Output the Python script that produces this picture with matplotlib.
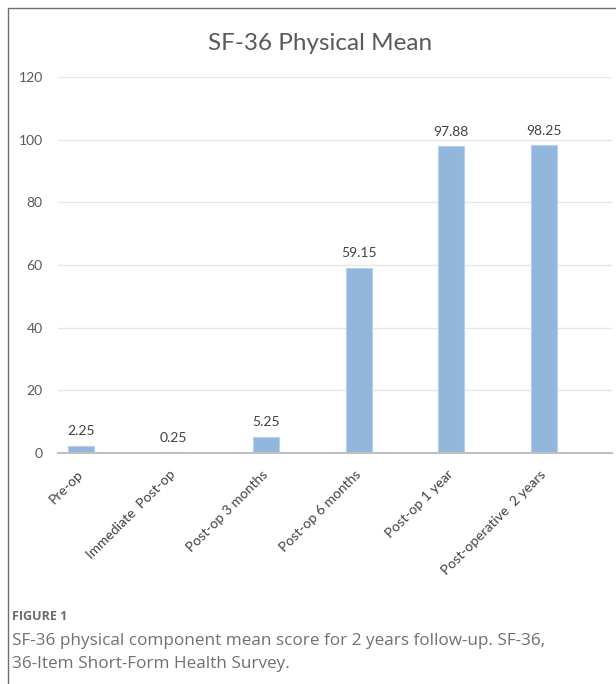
import matplotlib.pyplot as plt
from matplotlib.patches import Rectangle

categories = ["Pre-op", "Immediate  Post-op", "Post-op 3 months",
              "Post-op 6 months", "Post-op 1 year", "Post-operative  2 years"]
values = [2.25, 0.25, 5.25, 59.15, 97.88, 98.25]
yticks = [0, 20, 40, 60, 80, 100, 120]

plt.rcParams['font.family'] = ['Lato', 'DejaVu Sans']

fig = plt.figure(figsize=(6.16, 6.84), dpi=100)
# axis spans x 58..612 px, y 77..453 px
ax = fig.add_axes([58 / 616, 1 - 453 / 684, 554 / 616, 376 / 684])

x = range(len(categories))
ax.bar(x, values, width=0.28, color='#93B6DD', edgecolor='#B7CFEA',
       linewidth=0.8, zorder=3)
for xi, v in zip(x, values):
    ax.text(xi, v + 2.7, f"{v:.2f}", ha='center', va='bottom', fontsize=10,
            color='#404040')

ax.set_xlim(-0.25, 5.74)
ax.set_ylim(0, 120)
ax.set_yticks(yticks)
ax.tick_params(axis='y', length=0, labelsize=10, labelcolor='#595959', pad=11)
ax.tick_params(axis='x', length=0, labelsize=10, labelcolor='#404040', pad=14)
ax.set_xticks(list(x))
ax.set_xticklabels(categories, rotation=45, ha='right', va='center',
                   rotation_mode='anchor')
ax.grid(axis='y', color='#E6E6E6', linewidth=1, zorder=0)
for s in ['top', 'right', 'left']:
    ax.spines[s].set_visible(False)
ax.spines['bottom'].set_color('#BFBFBF')
ax.spines['bottom'].set_linewidth(1.5)
ax.spines['bottom'].set_zorder(4)

fig.text(320 / 616, 1 - 44 / 684, "SF-36 Physical Mean", ha='center',
         va='center', fontsize=17.5, color='#595959')

# outer frame
fig.patches.append(Rectangle((8 / 616, -0.1), 1.2, 1 - 8 / 684 + 0.1,
                             transform=fig.transFigure, fill=False,
                             edgecolor='#6E6E6E', linewidth=1))

cap_font = ['Open Sans', 'DejaVu Sans']
fig.text(12 / 616, 1 - 617 / 684, "FIGURE 1", fontsize=9, fontweight='bold',
         color='#6B6B6B', family=cap_font, va='center')
fig.text(12 / 616, 1 - 641 / 684,
         "SF-36 physical component mean score for 2 years follow-up. SF-36,",
         fontsize=12.3, color='#707070', family=cap_font, va='center')
fig.text(12 / 616, 1 - 664 / 684, "36-Item Short-Form Health Survey.",
         fontsize=12.3, color='#707070', family=cap_font, va='center')

fig.savefig("out.png", dpi=100)
